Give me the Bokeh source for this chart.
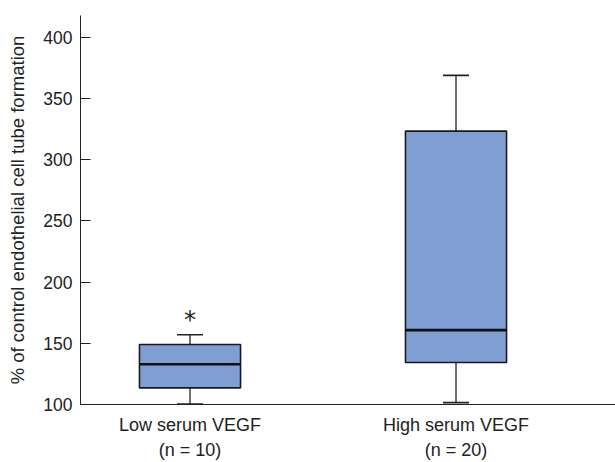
from bokeh.plotting import figure
from bokeh.models import Range1d, ColumnDataSource
from bokeh.core.properties import value
from bokeh.embed import file_html
from bokeh.resources import INLINE

# ---- data ----
groups = ["Low serum VEGF\n(n = 10)", "High serum VEGF\n(n = 20)"]
xpos = [1, 2]
whisker_low = [100.3, 101.6]
q1 = [113.6, 134.3]
median = [132.9, 160.7]
q3 = [149.0, 323.2]
whisker_high = [157.0, 368.7]
sig_marks = ["*", ""]
sig_y = [169, 0]
yticks = [100, 150, 200, 250, 300, 350, 400]
y_min, y_max = 100, 417.6

FONT = "Liberation Sans"
BOX_W = 0.38
CAP_W = 0.098

p = figure(width=615, height=462, output_backend="svg", toolbar_location=None,
           x_range=Range1d(0.5883, 2.5996), y_range=Range1d(y_min, y_max),
           min_border_left=80, min_border_top=15, min_border_bottom=51, min_border_right=0)
p.outline_line_color = None
p.grid.grid_line_color = None
p.background_fill_color = "white"

src = ColumnDataSource(dict(x=xpos, lo=whisker_low, q1=q1, med=median, q3=q3, hi=whisker_high,
                            xl=[v - BOX_W / 2 for v in xpos], xr=[v + BOX_W / 2 for v in xpos],
                            cl=[v - CAP_W / 2 for v in xpos], cr=[v + CAP_W / 2 for v in xpos]))

# whiskers
p.segment(x0="x", y0="q3", x1="x", y1="hi", source=src, line_color="#222222", line_width=1.3)
p.segment(x0="x", y0="lo", x1="x", y1="q1", source=src, line_color="#222222", line_width=1.3)
p.segment(x0="cl", y0="hi", x1="cr", y1="hi", source=src, line_color="#222222", line_width=1.6)
p.segment(x0="cl", y0="lo", x1="cr", y1="lo", source=src, line_color="#222222", line_width=1.8)
# boxes
p.vbar(x="x", width=BOX_W, bottom="q1", top="q3", source=src,
       fill_color="#7f9fd4", line_color="#1a1a1a", line_width=1.6)
# medians
p.segment(x0="xl", y0="med", x1="xr", y1="med", source=src, line_color="#111111", line_width=2.6)

# significance marker
p.text(x=xpos, y=sig_y, text=sig_marks, text_font=value("DejaVu Sans"), text_font_size="24px",
       text_align="center", text_baseline="middle", text_color="#222222")

# axes
p.yaxis.ticker = yticks
p.yaxis.axis_label = "% of control endothelial cell tube formation"
p.yaxis.axis_label_text_font = FONT
p.yaxis.axis_label_text_font_style = "normal"
p.yaxis.axis_label_text_font_size = "18.5px"
p.yaxis.axis_label_text_color = "#222222"
p.yaxis.axis_label_standoff = 12
p.yaxis.major_label_text_font = FONT
p.yaxis.major_label_text_font_size = "17.5px"
p.yaxis.major_label_text_color = "#222222"
p.yaxis.major_tick_out = 0
p.yaxis.major_tick_in = 10
p.yaxis.minor_tick_line_color = None
p.yaxis.axis_line_color = "#222222"
p.yaxis.major_tick_line_color = "#222222"
p.yaxis.major_label_standoff = 8

p.xaxis.ticker = xpos
p.xaxis.major_label_overrides = {x: g for x, g in zip(xpos, groups)}
p.xaxis.major_label_text_font = FONT
p.xaxis.major_label_text_font_size = "18px"
p.xaxis.major_label_text_line_height = 1.25
p.xaxis.major_label_text_color = "#222222"
p.xaxis.major_label_standoff = 4
p.xaxis.major_tick_line_color = None
p.xaxis.minor_tick_line_color = None
p.xaxis.axis_line_color = "#222222"

open("out.html", "w").write(file_html(p, INLINE))
